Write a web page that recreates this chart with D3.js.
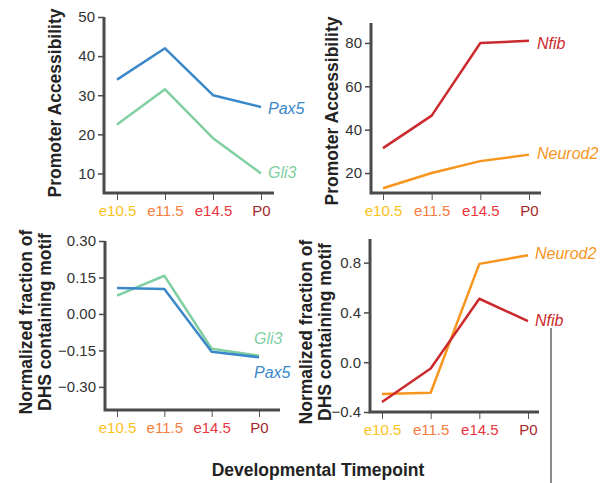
<!DOCTYPE html>
<html>
<head>
<meta charset="utf-8">
<script src="https://cdn.jsdelivr.net/npm/d3@7"></script>
<style>
  body { margin: 0; background: #fff; }
  text { font-family: "Liberation Sans", Arial, sans-serif; }
</style>
</head>
<body>
<div id="chart"></div>
<script>
// timepoints along the x axis, each label has its own colour
const timepoints = ["e10.5", "e11.5", "e14.5", "P0"]
const timeColors = ["#fbc21b", "#f47c3c", "#e8363c", "#a5262d"]

// promoter accessibility (top row)
const promPax5 = [34, 42, 30, 27]
const promGli3 = [22.5, 31.5, 19, 10]
const promNfib = [31.5, 46.5, 80, 81]
const promNeurod2 = [13, 20, 25.5, 28.5]

// normalized fraction of DHS containing motif (bottom row)
const motifPax5 = [0.107, 0.103, -0.155, -0.178]
const motifGli3 = [0.075, 0.157, -0.143, -0.172]
const motifNfib = [-0.32, -0.05, 0.51, 0.33]
const motifNeurod2 = [-0.255, -0.245, 0.79, 0.86]

// tick values
const ticksTL = [10, 20, 30, 40, 50]
const ticksTR = [20, 40, 60, 80]
const ticksBL = [-0.30, -0.15, 0.00, 0.15, 0.30]
const ticksBR = [-0.4, 0.0, 0.4, 0.8]

const geneColor = {
    Pax5: "#3b88c9",
    Gli3: "#80cfa2",
    Nfib: "#cb2a2e",
    Neurod2: "#f7951e"
}

const W = 608, H = 483
const svg = d3.select("#chart").append("svg")
    .attr("width", W).attr("height", H)

// layout of the four panels (labX = where the gene names start)
const panels = [
    { ax: 104, xEnd: 274, x0: 117, x1: 261, yDom: [5, 50], yRange: [193, 17], ticks: ticksTL, fmt: d3.format("d"),
      series: [["Pax5", promPax5, 108], ["Gli3", promGli3, 172]], labX: 268,
      ylab: ["Promoter Accessibility"], ylabX: 55, ylabY: 103 },
    { ax: 371, xEnd: 541, x0: 383, x1: 529, yDom: [10.8, 89.2], yRange: [193, 23], ticks: ticksTR, fmt: d3.format("d"),
      series: [["Nfib", promNfib, 43], ["Neurod2", promNeurod2, 153]], labX: 537,
      ylab: ["Promoter Accessibility"], ylabX: 332, ylabY: 111 },
    { ax: 105, xEnd: 280, x0: 117, x1: 259, yDom: [-0.395, 0.30], yRange: [410, 241], ticks: ticksBL, fmt: d3.format(".2f"),
      series: [["Gli3", motifGli3, 338], ["Pax5", motifPax5, 372]], labX: 254,
      ylab: ["Normalized fraction of", "DHS containing motif"], ylabX: 26, ylabY: 322 },
    { ax: 370, xEnd: 539, x0: 382, x1: 528, yDom: [-0.4, 0.99], yRange: [412, 239], ticks: ticksBR, fmt: d3.format(".1f"),
      series: [["Neurod2", motifNeurod2, 253], ["Nfib", motifNfib, 320]], labX: 535,
      ylab: ["Normalized fraction of", "DHS containing motif"], ylabX: 306, ylabY: 332 }
]

panels.forEach(function (p) {
    const g = svg.append("g")
    const x = d3.scalePoint().domain(timepoints).range([p.x0, p.x1])
    const y = d3.scaleLinear().domain(p.yDom).range(p.yRange)
    const yBase = p.yRange[0]

    // y axis ticks and labels
    const yAxis = g.append("g")
        .attr("transform", `translate(${p.ax},0)`)
        .call(d3.axisLeft(y).tickValues(p.ticks).tickFormat(p.fmt).tickSize(6).tickSizeOuter(0).tickPadding(3))
    yAxis.select(".domain").remove()
    yAxis.selectAll("line").attr("stroke", "#4a4a4a").attr("stroke-width", 1.5)
    yAxis.selectAll("text").attr("fill", "#333").style("font-size", "15px")
        .style("font-family", "'Liberation Sans', Arial, sans-serif")

    // x axis ticks and coloured labels
    const xAxis = g.append("g")
        .attr("transform", `translate(0,${yBase})`)
        .call(d3.axisBottom(x).tickSize(7).tickSizeOuter(0).tickPadding(5))
    xAxis.select(".domain").remove()
    xAxis.selectAll("line").attr("stroke", "#555").attr("stroke-width", 1)
    xAxis.selectAll("text")
        .attr("fill", (d, i) => timeColors[i])
        .style("font-size", "15px")
        .style("font-family", "'Liberation Sans', Arial, sans-serif")

    // thick axis lines
    g.append("path")
        .attr("d", `M${p.ax},${p.yRange[1]}V${yBase}H${p.xEnd}`)
        .attr("fill", "none")
        .attr("stroke", "#4a4a4a")
        .attr("stroke-width", 3)

    // lines for each gene
    const line = d3.line()
        .x((d, i) => x(timepoints[i]))
        .y(d => y(d))
    p.series.forEach(function (s) {
        g.append("path")
            .datum(s[1])
            .attr("d", line)
            .attr("fill", "none")
            .attr("stroke", geneColor[s[0]])
            .attr("stroke-width", 2.5)
            .attr("stroke-linejoin", "round")
        g.append("text")
            .attr("x", p.labX)
            .attr("y", s[2])
            .attr("dy", "0.35em")
            .attr("fill", geneColor[s[0]])
            .style("font-size", "16px")
            .style("font-style", "italic")
            .text(s[0])
    })

    // y axis title, one or two lines
    p.ylab.forEach(function (t, i) {
        g.append("text")
            .attr("transform", `translate(${p.ylabX + i * 19},${p.ylabY}) rotate(-90)`)
            .attr("text-anchor", "middle")
            .attr("dy", "0.35em")
            .attr("fill", "#222")
            .style("font-size", "17.5px")
            .style("font-weight", "bold")
            .text(t)
    })
})

// shared x title
svg.append("text")
    .attr("x", 318)
    .attr("y", 476)
    .attr("text-anchor", "middle")
    .attr("fill", "#222")
    .style("font-size", "17.5px")
    .style("font-weight", "bold")
    .text("Developmental Timepoint")

// thin vertical guide line on the right
svg.append("line")
    .attr("x1", 551).attr("x2", 551)
    .attr("y1", 328).attr("y2", H)
    .attr("stroke", "#666")
    .attr("stroke-width", 1.5)
</script>
</body>
</html>
